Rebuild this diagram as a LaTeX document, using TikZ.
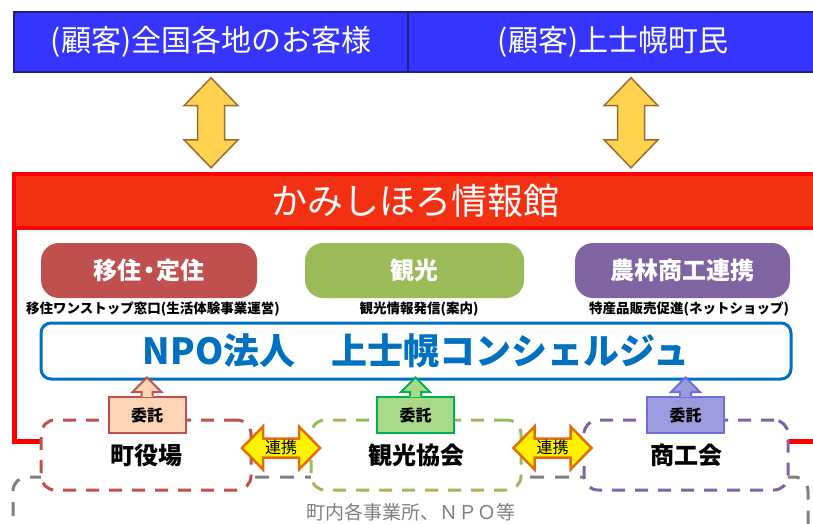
\documentclass[tikz,border=0pt]{standalone}
\usepackage{fontspec}
\setmainfont{Noto Sans CJK JP}
\usetikzlibrary{calc}
\definecolor{barblue}{HTML}{3535FF}
\definecolor{barnavy}{HTML}{1F1F80}
\definecolor{hdrfill}{HTML}{F33112}
\definecolor{hdrred}{HTML}{FF0000}
\definecolor{ygold}{HTML}{FFD34F}
\definecolor{ybrown}{HTML}{9C6B2E}
\definecolor{cred}{HTML}{C0504D}
\definecolor{cgreen}{HTML}{9BBB59}
\definecolor{cpurple}{HTML}{8064A2}
\definecolor{npoblue}{HTML}{0070C0}
\definecolor{peach}{HTML}{FBD5B5}
\definecolor{lgreen}{HTML}{A9DA8A}
\definecolor{dgreen}{HTML}{00B050}
\definecolor{lpurple}{HTML}{9B9BE0}
\definecolor{dpurple}{HTML}{6E6ED6}
\definecolor{lnkorange}{HTML}{E46C0A}
\definecolor{gtext}{HTML}{7F7F7F}
\newcommand\myfs[1]{\fontsize{#1}{#1}\selectfont}
\begin{document}
\begin{tikzpicture}[x=1pt,y=-1pt,
  topcell/.style={draw=barnavy, line width=1.5pt, fill=barblue, text=white, inner sep=0pt, font=\myfs{30}},
  hdrbox/.style={draw=hdrred, fill=hdrfill, line width=4pt, text=white, inner sep=0pt, font=\myfs{36}},
  catbox/.style={rounded corners=18pt, text=white, inner sep=0pt, font=\bfseries\myfs{24}, minimum height=55pt},
  subtxt/.style={font=\bfseries\myfs{13.5}, inner sep=0pt},
  npobox/.style={draw=npoblue, line width=3pt, fill=white, rounded corners=10pt, text=npoblue, inner sep=0pt, font=\bfseries\myfs{36}},
  membox/.style={line width=3pt, dash pattern=on 13pt off 10pt, fill=white, rounded corners=14pt, inner sep=0pt, minimum height=70pt, font=\bfseries\myfs{24}},
  graybox/.style={draw=gtext, line width=3pt, dash pattern=on 14pt off 11pt, rounded corners=14pt, text=gtext, inner sep=0pt, font=\myfs{19}},
  itaku/.style={line width=2pt, inner sep=0pt, minimum width=77pt, minimum height=36pt, font=\bfseries\myfs{16}},
  yarrow/.style={fill=ygold, draw=ybrown, line width=1.5pt, line join=miter},
  lnkarrow/.style={fill=yellow, draw=lnkorange, line width=2.5pt, line join=miter},
  lnktxt/.style={font=\myfs{16}, inner sep=0pt}
]
\useasboundingbox (0,0) rectangle (813,524);
% customers
\node[topcell, minimum width=394pt, minimum height=60pt] (top1) at (211,42) {(顧客)全国各地のお客様};
\node[topcell, minimum width=410pt, minimum height=60pt] (top2) at (613,42) {(顧客)上士幌町民};
% red frame and header
\draw[hdrred, line width=5pt] (14.5,201) rectangle (816,441);
\node[hdrbox, minimum width=802pt, minimum height=54pt] (hdr) at (415,201) {かみしほろ情報館};
% customer arrows
\filldraw[yarrow] ($(top1.south)+(0,5)$) -- ++(27,28) -- ++(-13.5,0) -- ++(0,34) -- ++(13.5,0) -- ++(-27,28) -- ++(-27,-28) -- ++(13.5,0) -- ++(0,-34) -- ++(-13.5,0) -- cycle;
\filldraw[yarrow] ($(top2.south)+(18,5)$) -- ++(27,28) -- ++(-13.5,0) -- ++(0,34) -- ++(13.5,0) -- ++(-27,28) -- ++(-27,-28) -- ++(13.5,0) -- ++(0,-34) -- ++(-13.5,0) -- cycle;
% categories
\node[catbox, fill=cred, minimum width=216pt] (c1) at (149,270.5) {移住\kern-.2em・\kern-.2em定住};
\node[catbox, fill=cgreen, minimum width=219pt] (c2) at (414.5,270.5) {観光};
\node[catbox, fill=cpurple, minimum width=215pt] (c3) at (682.5,270.5) {農林商工連携};
\node[subtxt] (s1) at (153,309) {移住ワンストップ窓口(生活体験事業運営)};
\node[subtxt] (s2) at (419,309) {観光情報発信(案内)};
\node[subtxt] (s3) at (689,309) {特産品販売促進(ネットショップ)};
% NPO
\node[npobox, minimum width=750pt, minimum height=56pt] (npo) at (416,351) {NPO法人　上士幌コンシェルジュ};
% others
\node[graybox, minimum width=795pt, minimum height=70pt] (others) at (410.5,512) {町内各事業所、ＮＰＯ等};
% members
\node[membox, draw=cred, minimum width=210pt] (m1) at (146,455) {\raisebox{-2pt}{町役場}};
\node[membox, draw=cgreen, minimum width=210pt] (m2) at (416,455) {\raisebox{-2pt}{観光協会}};
\node[membox, draw=cpurple, minimum width=204pt] (m3) at (686,455) {\raisebox{-2pt}{商工会}};
% itaku boxes
\node[itaku, draw=cred, fill=peach] (b1) at (147,415) {委託};
\node[itaku, draw=dgreen, fill=lgreen] (b2) at (415.5,415) {委託};
\node[itaku, draw=dpurple, fill=lpurple] (b3) at (685.5,415) {委託};
\foreach \b/\f/\d in {b1/peach/cred, b2/lgreen/dgreen, b3/lpurple/dpurple}{
  \fill[\f] ($(\b.north)+(-5.5,1)$) -- ++(0,-5) -- ++(-9,0) -- ($(\b.north |- npo.south)+(0,-3)$) -- ($(\b.north)+(14.5,-4)$) -- ++(-9,0) -- ++(0,5) -- cycle;
  \draw[\d, line width=2pt, line join=miter] ($(\b.north)+(-5.5,0)$) -- ++(0,-4) -- ++(-9,0) -- ($(\b.north |- npo.south)+(0,-3)$) -- ($(\b.north)+(14.5,-4)$) -- ++(-9,0) -- ++(0,4);
}
% links
\filldraw[lnkarrow] ($(m1.east)!0.5!(m2.west)+(-39,-7)$) -- ++(21,-21.5) -- ++(0,12) -- ++(36,0) -- ++(0,-12) -- ++(21,21.5) -- ++(-21,21.5) -- ++(0,-12) -- ++(-36,0) -- ++(0,12) -- cycle;
\node[lnktxt] (l1) at ($(m1.east)!0.5!(m2.west)+(0,-8)$) {連携};
\filldraw[lnkarrow] ($(m2.east)!0.5!(m3.west)+(-39,-7)$) -- ++(21,-21.5) -- ++(0,12) -- ++(36,0) -- ++(0,-12) -- ++(21,21.5) -- ++(-21,21.5) -- ++(0,-12) -- ++(-36,0) -- ++(0,12) -- cycle;
\node[lnktxt] (l2) at ($(m2.east)!0.5!(m3.west)+(0,-8)$) {連携};
\end{tikzpicture}
\end{document}
